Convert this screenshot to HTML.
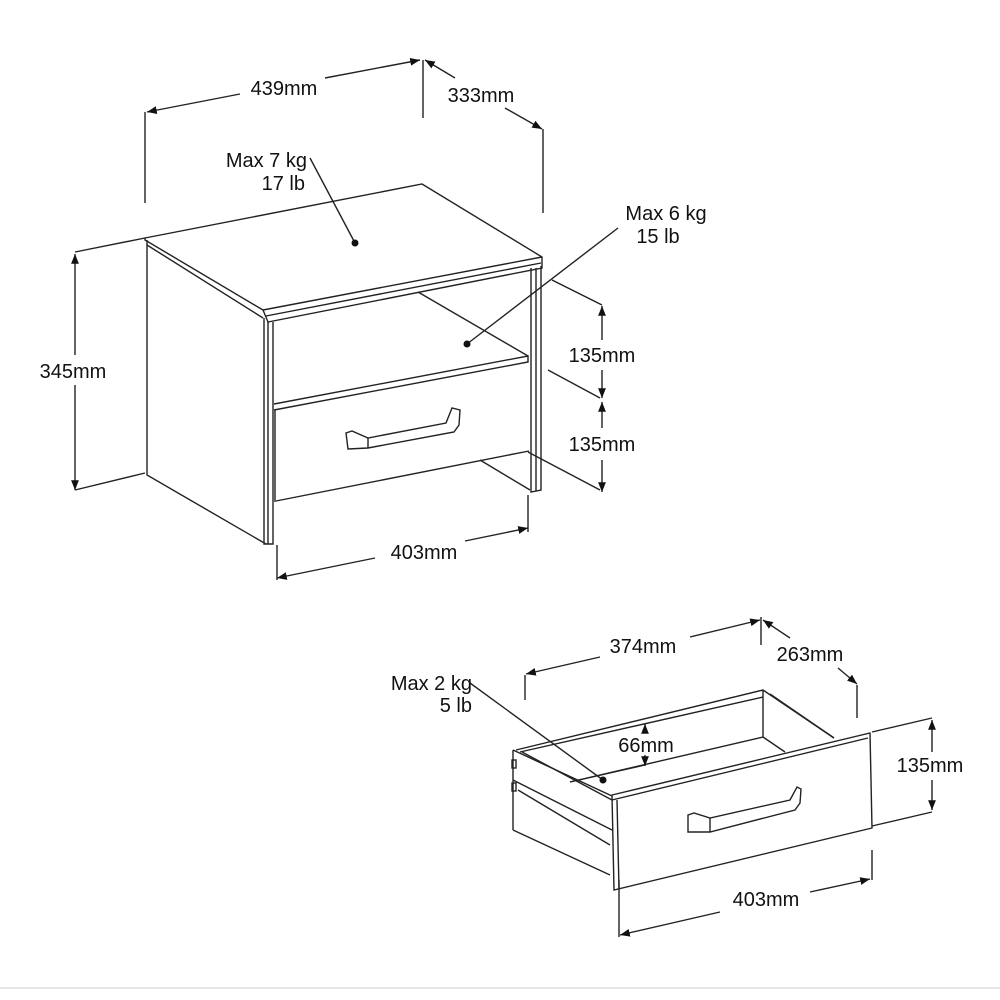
<!DOCTYPE html>
<html><head><style>
html,body{margin:0;padding:0;background:#fff;}
svg{display:block;}
text{font-family:"Liberation Sans",Arial,sans-serif;font-size:20px;fill:#111;}
</style></head><body>
<svg width="1000" height="1000" viewBox="0 0 1000 1000" xmlns="http://www.w3.org/2000/svg">
<defs>
<marker id="a" viewBox="0 0 10 10" refX="10" refY="5" markerWidth="7" markerHeight="7" orient="auto-start-reverse"><path d="M0,1 L10,5 L0,9 z" fill="#111"/></marker>
</defs>
<g stroke="#222" stroke-width="1.4" fill="none">
<line x1="145" y1="112" x2="145" y2="203"/>
<line x1="423" y1="60" x2="423" y2="118"/>
<line x1="543" y1="129" x2="543" y2="213"/>
<line x1="147" y1="112" x2="240" y2="94" marker-start="url(#a)"/>
<line x1="325" y1="78" x2="420" y2="60" marker-end="url(#a)"/>
<line x1="425" y1="60" x2="455" y2="78" marker-start="url(#a)"/>
<line x1="505" y1="108" x2="542" y2="129" marker-end="url(#a)"/>
<line x1="75" y1="252" x2="145" y2="238"/>
<line x1="75" y1="490" x2="145" y2="473"/>
<line x1="75" y1="254" x2="75" y2="355" marker-start="url(#a)"/>
<line x1="75" y1="385" x2="75" y2="490" marker-end="url(#a)"/>
<path d="M145,238 L422,184 L542,257 L542,268 L268,322 L263,310 L145,240 Z"/>
<line x1="263" y1="310" x2="542" y2="257"/>
<line x1="266" y1="316" x2="541" y2="263"/>
<path d="M147,240 L147,475 L266,544"/>
<line x1="147" y1="245" x2="263" y2="318"/>
<path d="M264,318 L264,544 L273,544 L273,322"/>
<line x1="268" y1="322" x2="268" y2="544"/>
<path d="M531,268 L531,492 L541,490 L541,266"/>
<line x1="536" y1="268" x2="536" y2="491"/>
<line x1="418" y1="292" x2="528" y2="356"/>
<path d="M274,404 L528,356 L528,362 L274,410"/>
<line x1="275" y1="410" x2="275" y2="502"/>
<line x1="276" y1="501" x2="529" y2="451"/>
<line x1="480" y1="460" x2="530" y2="490"/>
<path d="M346,433 L352,431 L368,438 L446,423 L452,408 L460,410 L459,425 L454,432 L368,448 L348,449 Z"/>
<line x1="368" y1="438" x2="368" y2="448"/>
<line x1="552" y1="280" x2="602" y2="305"/>
<line x1="548" y1="370" x2="600" y2="398"/>
<line x1="528" y1="452" x2="600" y2="490"/>
<line x1="602" y1="306" x2="602" y2="340" marker-start="url(#a)"/>
<line x1="602" y1="370" x2="602" y2="398" marker-end="url(#a)"/>
<line x1="602" y1="402" x2="602" y2="428" marker-start="url(#a)"/>
<line x1="602" y1="460" x2="602" y2="492" marker-end="url(#a)"/>
<line x1="277" y1="545" x2="277" y2="580"/>
<line x1="528" y1="495" x2="528" y2="532"/>
<line x1="277" y1="578" x2="375" y2="558" marker-start="url(#a)"/>
<line x1="465" y1="541" x2="528" y2="528" marker-end="url(#a)"/>
<line x1="310" y1="158" x2="355" y2="243"/>
<line x1="618" y1="228" x2="467" y2="344"/>
<line x1="525" y1="675" x2="525" y2="700"/>
<line x1="761" y1="617" x2="761" y2="645"/>
<line x1="857" y1="685" x2="857" y2="718"/>
<line x1="526" y1="674" x2="600" y2="657" marker-start="url(#a)"/>
<line x1="690" y1="637" x2="760" y2="620" marker-end="url(#a)"/>
<line x1="763" y1="620" x2="790" y2="638" marker-start="url(#a)"/>
<line x1="838" y1="668" x2="857" y2="684" marker-end="url(#a)"/>
<path d="M516,750 L763,690 L834,738"/>
<line x1="520" y1="752" x2="763" y2="697"/>
<line x1="763" y1="690" x2="763" y2="737"/>
<line x1="763" y1="737" x2="785" y2="752"/>
<line x1="770" y1="694" x2="834" y2="738"/>
<line x1="570" y1="782" x2="763" y2="737"/>
<line x1="513" y1="750" x2="513" y2="830"/>
<line x1="513" y1="750" x2="612" y2="796"/>
<line x1="522" y1="752" x2="612" y2="800"/>
<line x1="513" y1="780" x2="612" y2="830"/>
<line x1="518" y1="790" x2="610" y2="845"/>
<line x1="513" y1="830" x2="610" y2="875"/>
<rect x="512" y="760" width="4" height="8"/>
<rect x="512" y="783" width="4" height="8"/>
<path d="M612,795 L870,733 L872,828 L614,890 Z"/>
<line x1="612" y1="800" x2="868" y2="738"/>
<line x1="617" y1="800" x2="619" y2="889"/>
<path d="M688,815 L694,813 L710,818 L790,800 L797,787 L801,789 L800,803 L795,810 L710,832 L688,832 Z"/>
<line x1="710" y1="818" x2="710" y2="832"/>
<line x1="645" y1="724" x2="645" y2="730" marker-start="url(#a)"/>
<line x1="645" y1="755" x2="645" y2="766" marker-end="url(#a)"/>
<line x1="570" y1="782" x2="645" y2="765"/>
<line x1="470" y1="683" x2="603" y2="780"/>
<line x1="872" y1="732" x2="932" y2="718"/>
<line x1="872" y1="826" x2="932" y2="812"/>
<line x1="932" y1="720" x2="932" y2="752" marker-start="url(#a)"/>
<line x1="932" y1="780" x2="932" y2="810" marker-end="url(#a)"/>
<line x1="619" y1="880" x2="619" y2="937"/>
<line x1="872" y1="850" x2="872" y2="880"/>
<line x1="620" y1="935" x2="720" y2="912" marker-start="url(#a)"/>
<line x1="810" y1="892" x2="870" y2="879" marker-end="url(#a)"/>
</g>
<line x1="0" y1="988" x2="1000" y2="988" stroke="#ccc" stroke-width="1"/>
<g fill="#111">
<circle cx="355" cy="243" r="3.5"/>
<circle cx="467" cy="344" r="3.5"/>
<circle cx="603" cy="780" r="3.5"/>
</g>
<text x="284" y="95" text-anchor="middle">439mm</text>
<text x="481" y="102" text-anchor="middle">333mm</text>
<text x="73" y="378" text-anchor="middle">345mm</text>
<text x="307" y="167" text-anchor="end">Max 7 kg</text>
<text x="305" y="190" text-anchor="end">17 lb</text>
<text x="666" y="220" text-anchor="middle">Max 6 kg</text>
<text x="658" y="243" text-anchor="middle">15 lb</text>
<text x="602" y="362" text-anchor="middle">135mm</text>
<text x="602" y="451" text-anchor="middle">135mm</text>
<text x="424" y="559" text-anchor="middle">403mm</text>
<text x="643" y="653" text-anchor="middle">374mm</text>
<text x="810" y="661" text-anchor="middle">263mm</text>
<text x="472" y="690" text-anchor="end">Max 2 kg</text>
<text x="472" y="712" text-anchor="end">5 lb</text>
<text x="646" y="752" text-anchor="middle">66mm</text>
<text x="930" y="772" text-anchor="middle">135mm</text>
<text x="766" y="906" text-anchor="middle">403mm</text>
</svg>
</body></html>
